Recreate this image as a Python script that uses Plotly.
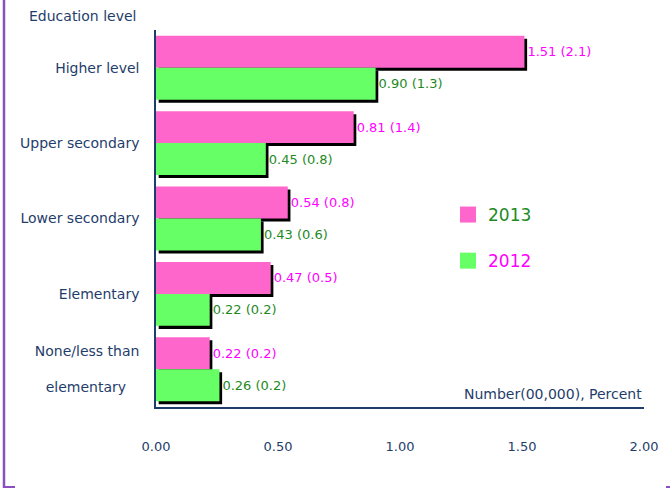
import plotly.graph_objects as go

# ---- data ----
categories = ["Higher level", "Upper secondary", "Lower secondary", "Elementary", "None/less than elementary"]
tick_labels = ["Higher level", "Upper secondary", "Lower secondary", "Elementary",
               "None/less than<br>\u00a0<br>elementary\u00a0\u00a0\u00a0"]
num_2013 = [1.51, 0.81, 0.54, 0.47, 0.22]
pct_2013 = [2.1, 1.4, 0.8, 0.5, 0.2]
num_2012 = [0.90, 0.45, 0.43, 0.22, 0.26]
pct_2012 = [1.3, 0.8, 0.6, 0.2, 0.2]
x_ticks = [0, 0.5, 1.0, 1.5, 2.0]
x_tick_labels = ["0.00", "0.50", "1.00", "1.50", "2.00"]

# ---- style ----
PINK = "#ff66cc"
GREEN = "#66ff66"
MAGENTA_TXT = "#ff00ff"
GREEN_TXT = "#1e8a1e"
NAVY = "#1f3d6b"
PURPLE = "#8b4fc0"
FONT = "DejaVu Sans"
W_BAR = 0.424
SH_X = 0.011
SH_Y = 0.04

# plot area in pixels
L, R, T, B = 156, 26, 30, 82
WID, HEI = 670, 489
pw, ph = WID - L - R, HEI - T - B


def px_x(p):
    return (p - L) / pw


def px_y(p):
    return (HEI - B - p) / ph


lab13 = [f"{v:.2f} ({p:.1f})" for v, p in zip(num_2013, pct_2013)]
lab12 = [f"{v:.2f} ({p:.1f})" for v, p in zip(num_2012, pct_2012)]

fig = go.Figure()
# shadows
fig.add_trace(go.Bar(y=categories, x=num_2013, base=SH_X, orientation="h",
                     width=W_BAR, offset=-W_BAR + SH_Y, marker=dict(color="black", line_width=0),
                     showlegend=False, hoverinfo="skip"))
fig.add_trace(go.Bar(y=categories, x=num_2012, base=SH_X, orientation="h",
                     width=W_BAR, offset=SH_Y, marker=dict(color="black", line_width=0),
                     showlegend=False, hoverinfo="skip"))
# bars
fig.add_trace(go.Bar(y=categories, x=num_2013, orientation="h", width=W_BAR, offset=-W_BAR,
                     marker=dict(color=PINK, line_width=0), text=lab13, textposition="outside",
                     textfont=dict(color=MAGENTA_TXT, size=13, family=FONT),
                     cliponaxis=False, showlegend=False, name="2013"))
fig.add_trace(go.Bar(y=categories, x=num_2012, orientation="h", width=W_BAR, offset=0,
                     marker=dict(color=GREEN, line_width=0), text=lab12, textposition="outside",
                     textfont=dict(color=GREEN_TXT, size=13, family=FONT),
                     cliponaxis=False, showlegend=False, name="2012"))
# legend entries
fig.add_trace(go.Scatter(x=[None], y=[None], mode="markers", legendgroup="a",
                         marker=dict(symbol="square", size=18, color=PINK),
                         name=f"<span style='color:{GREEN_TXT}'>2013</span>"))
fig.add_trace(go.Scatter(x=[None], y=[None], mode="markers", legendgroup="b",
                         marker=dict(symbol="square", size=18, color=GREEN),
                         name=f"<span style='color:{MAGENTA_TXT}'>2012</span>"))

fig.update_layout(
    width=WID, height=HEI,
    margin=dict(l=L, r=R, t=T, b=B, autoexpand=False),
    paper_bgcolor="white", plot_bgcolor="white",
    barmode="overlay",
    font=dict(family=FONT, size=14, color=NAVY),
    legend=dict(x=px_x(448), y=px_y(197), xanchor="left", yanchor="top",
                font=dict(size=17, family=FONT), tracegroupgap=21,
                bgcolor="rgba(0,0,0,0)", itemsizing="trace"),
    xaxis=dict(range=[0, 2], tickvals=x_ticks, ticktext=x_tick_labels, showgrid=False,
               zeroline=False, showline=True, linecolor=NAVY, linewidth=1.5,
               ticks="", ticklabelstandoff=27, tickfont=dict(size=13, color=NAVY)),
    yaxis=dict(type="category", categoryorder="array", categoryarray=categories,
               tickvals=categories, ticktext=tick_labels,
               range=[4.5, -0.5], showgrid=False, zeroline=False, showline=True,
               linecolor=NAVY, linewidth=1.5, ticks="", ticklabelstandoff=12,
               tickfont=dict(size=14, color=NAVY)),
    annotations=[
        dict(text="Education level", xref="paper", yref="paper", x=px_x(138), y=px_y(16),
             xanchor="right", yanchor="middle", showarrow=False, font=dict(size=14, color=NAVY)),
        dict(text="Number(00,000), Percent", xref="paper", yref="paper", x=px_x(644), y=px_y(394),
             xanchor="right", yanchor="middle", showarrow=False, font=dict(size=14, color=NAVY)),
    ],
    shapes=[
        dict(type="line", xref="paper", yref="paper", x0=px_x(4), x1=px_x(4), y0=px_y(-5), y1=px_y(488),
             line=dict(color=PURPLE, width=2.5)),
        dict(type="line", xref="paper", yref="paper", x0=px_x(3), x1=px_x(15), y0=px_y(487), y1=px_y(487),
             line=dict(color=PURPLE, width=2)),
        dict(type="line", xref="paper", yref="paper", x0=px_x(666), x1=px_x(672), y0=px_y(487), y1=px_y(487),
             line=dict(color=PURPLE, width=2)),
    ],
)

fig.write_html("out.html", config={"displayModeBar": False},
               post_script="document.body.style.margin='0';document.body.style.padding='0';")
